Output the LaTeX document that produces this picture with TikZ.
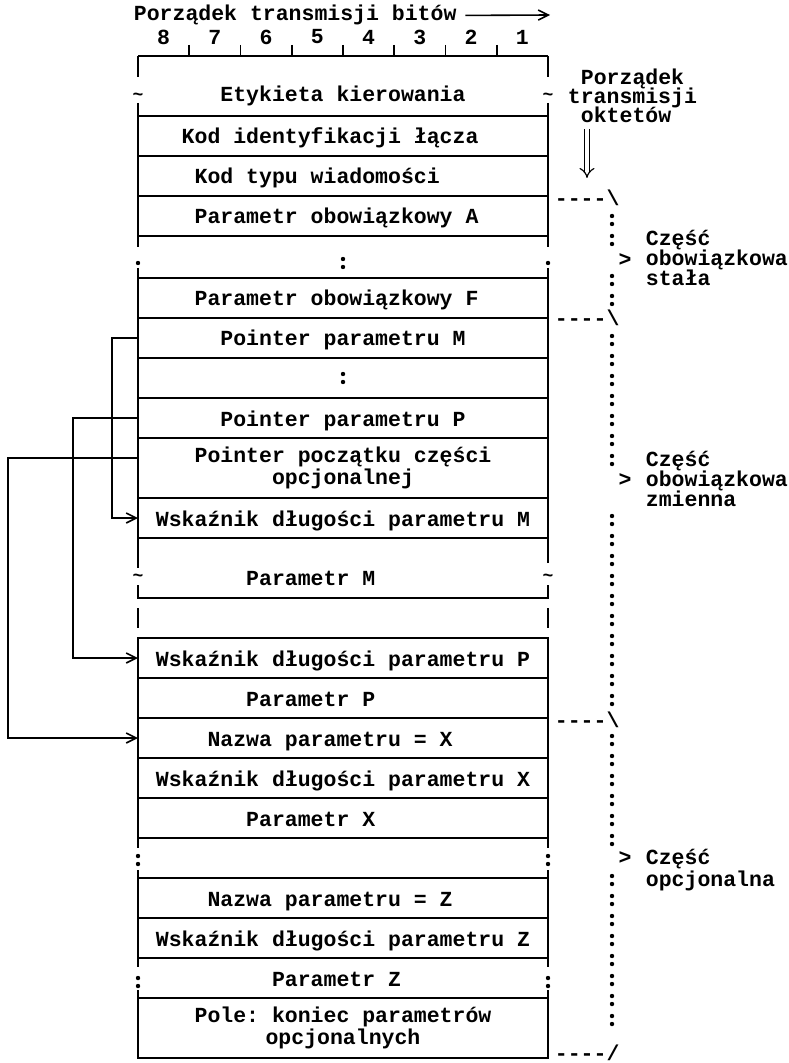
\documentclass[tikz,border=0pt]{standalone}
\usepackage{fontspec}
\setmonofont{Liberation Mono}
\usetikzlibrary{positioning,arrows.meta}

\tikzset{
  field/.style={draw, outer sep=0pt, inner sep=0pt, minimum width=205pt,
    minimum height=20pt, text height=8pt, text depth=0pt},
  openfield/.style={field, draw=none},
  twoline/.style={field, align=center, text height={}, text depth={}},
  wave/.style={inner sep=0pt, font=\ttfamily\bfseries\fontsize{9}{9}\selectfont},
  dotmark/.style={circle, fill, inner sep=0pt, minimum size=2.2pt},
  colon/.pic={\fill (0,-4) circle (1.1pt) (0,4) circle (1.1pt);},
  ptr/.style={line width=0.8pt, -{Straight Barb[length=5pt,width=5pt]}},
  brace/.style={inner sep=0pt, anchor=base west},
  sidetxt/.style={inner sep=0pt, anchor=base west},
}

\begin{document}
\begin{tikzpicture}[x=0.5pt, y=-0.5pt, node distance=0pt, line width=0.9pt,
    font=\ttfamily\bfseries\fontsize{10.75}{11}\selectfont]
\useasboundingbox (0,0) rectangle (788,1063);

% naglowek: bity
\node[sidetxt] (hdr) at (133,21) {Porządek transmisji bitów};
\coordinate (hdrend) at (550,15);
\draw[line width=0.8pt, -{Straight Barb[length=5pt,width=5pt]}] ([xshift=4pt]hdr.east) -- (hdrend);
\foreach \b [count=\i from 0] in {8,7,6,5,4,3,2,1}
  \node (bit\b) at (163.6+51.25*\i,37) {\b};
\foreach \k in {1,...,7}
  \draw (138+51.25*\k,45) -- (138+51.25*\k,56);

% pola wiadomosci
\node[openfield, minimum height=30pt, text height=16pt] (etyk) at (343,86) {Etykieta kierowania};
\node[field] (kodid) [below=of etyk] {Kod identyfikacji łącza\hspace*{1.2em}};
\node[field] (kodtyp) [below=of kodid] {Kod typu wiadomości\hspace*{2.4em}};
\node[field] (parA) [below=of kodtyp] {Parametr obowiązkowy A\hspace*{0.6em}};
\node[openfield, minimum height=21pt] (dotsA) [below=of parA] {};
\node[field] (parF) [below=of dotsA] {Parametr obowiązkowy F\hspace*{0.6em}};
\node[field] (ptrM) [below=of parF] {Pointer parametru M};
\node[field] (dots2) [below=of ptrM] {};
\node[field] (ptrP) [below=of dots2] {Pointer parametru P};
\node[twoline, minimum height=30pt] (ptrOpt) [below=of ptrP] {Pointer początku części\\opcjonalnej};
\node[field] (wskM) [below=of ptrOpt] {Wskaźnik długości parametru M};
\node[openfield, minimum height=30pt, text height=17pt] (parM) [below=of wskM] {Parametr M\hspace*{3em}};
\node[openfield] (gapM) [below=of parM] {};
\node[field] (wskP) [below=of gapM] {Wskaźnik długości parametru P};
\node[field] (parP) [below=of wskP] {Parametr P\hspace*{3em}};
\node[field] (nazX) [below=of parP] {Nazwa parametru = X\hspace*{1.2em}};
\node[field] (wskX) [below=of nazX] {Wskaźnik długości parametru X};
\node[field] (parX) [below=of wskX] {Parametr X\hspace*{3em}};
\node[openfield] (dots3) [below=of parX] {};
\node[field] (nazZ) [below=of dots3] {Nazwa parametru = Z\hspace*{1.2em}};
\node[field] (wskZ) [below=of nazZ] {Wskaźnik długości parametru Z};
\node[openfield] (parZ) [below=of wskZ] {Parametr Z\hspace*{0.6em}};
\node[twoline, minimum height=30pt] (pole) [below=of parZ] {Pole: koniec parametrów\\opcjonalnych};

% przerwane boki
\draw (etyk.north west) -- (etyk.north east);
\draw (etyk.north west) -- ++(0,21) ++(0,20) node[wave]{\textasciitilde} ++(0,6) -- (etyk.south west);
\draw (etyk.north east) -- ++(0,21) ++(0,20) node[wave]{\textasciitilde} ++(0,6) -- (etyk.south east);
\draw (dotsA.north west) -- ++(0,11) ++(0,16) node[dotmark]{} ++(0,5) -- (dotsA.south west);
\draw (dotsA.north east) -- ++(0,11) ++(0,16) node[dotmark]{} ++(0,5) -- (dotsA.south east);
\pic at ([yshift=-3pt]dotsA.center) {colon};
\pic at (dots2.center) {colon};
\draw (parM.north west) -- ++(0,30) ++(0,10) node[wave]{\textasciitilde} ++(0,7) -- (parM.south west)
  -- (parM.south east) -- ++(0,-13) ++(0,-7) node[wave]{\textasciitilde} ++(0,-15) -- (parM.north east);
\draw (gapM.north west) ++(0,10) -- ++(0,20) (gapM.north east) ++(0,10) -- ++(0,20);
\draw (dots3.north west) -- ++(0,10) ++(0,12) pic{colon} ++(0,10) -- (dots3.south west);
\draw (dots3.north east) -- ++(0,10) ++(0,12) pic{colon} ++(0,10) -- (dots3.south east);
\draw (parZ.north west) -- ++(0,9) ++(0,15) pic{colon} ++(0,8) -- (parZ.south west);
\draw (parZ.north east) -- ++(0,9) ++(0,15) pic{colon} ++(0,8) -- (parZ.south east);

% wskazniki
\draw[ptr] (ptrM.west) -- ++(-26,0) |- (wskM.west);
\draw[ptr] (ptrP.west) -- ++(-65,0) |- (wskP.west);
\draw[ptr] ([yshift=5pt]ptrOpt.west) -- ++(-130,0) |- (nazX.west);

% kolejnosc oktetow
\node[sidetxt] (okt1) at (580,85) {Porządek};
\node[sidetxt] (okt2) at (567,104) {transmisji};
\node[sidetxt] (okt3) at (580,123) {oktetów};
\coordinate (ordtop) at (587,129);
\coordinate (ordbot) at (587,178);
\draw[line width=0.6pt, double, double distance=2pt, -{Implies}] (ordtop) -- (ordbot);

% czesci wiadomosci
\node[brace] (brA) at (554,206) {----\textbackslash};
\node[brace] (brB) at (554,326) {----\textbackslash};
\node[brace] (brC) at (554,727) {----\textbackslash};
\node[brace] (brD) at (554,1060) {----/};
\foreach \y in {220,240,280,300} \pic at (612,\y) {colon};
\foreach \y in {340,360,...,460} \pic at (612,\y) {colon};
\foreach \y in {520,540,...,700} \pic at (612,\y) {colon};
\foreach \y in {740,760,...,840} \pic at (612,\y) {colon};
\foreach \y in {880,900,...,1020} \pic at (612,\y) {colon};

\node (gtA) at (625,260) {>};
\node[sidetxt] (czA1) at (645,246) {Część};
\node[sidetxt] (czA2) at (645,266) {obowiązkowa};
\node[sidetxt] (czA3) at (645,286) {stała};
\node (gtB) at (625,480) {>};
\node[sidetxt] (czB1) at (645,466) {Część};
\node[sidetxt] (czB2) at (645,486) {obowiązkowa};
\node[sidetxt] (czB3) at (645,506) {zmienna};
\node (gtC) at (625,858) {>};
\node[sidetxt] (czC1) at (645,864) {Część};
\node[sidetxt] (czC2) at (645,886) {opcjonalna};
\end{tikzpicture}
\end{document}
